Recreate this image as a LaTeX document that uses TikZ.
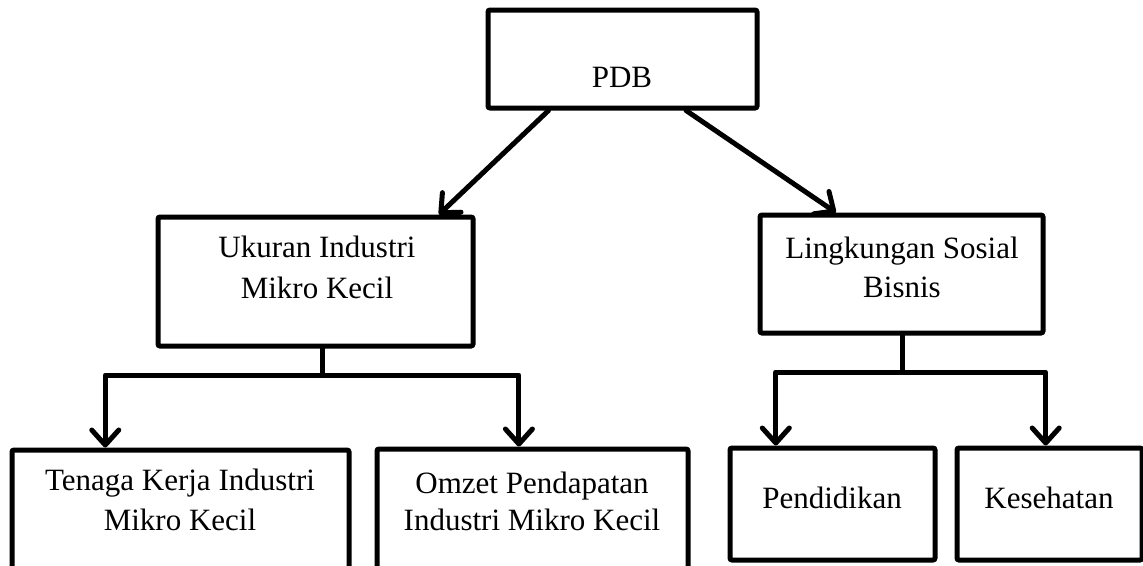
\documentclass[tikz,border=0pt]{standalone}
\usepackage{fontspec}
\setmainfont{Liberation Serif}
\usetikzlibrary{arrows.meta,calc}
\tikzset{
  box/.style={draw=black, line width=5pt, rounded corners=2pt, inner sep=0pt, fill=white},
  txt/.style={anchor=base, inner sep=0pt, font=\fontsize{31}{36}\selectfont},
  conn/.style={line width=5pt, line cap=round, line join=round},
  arr/.style={conn, -{Straight Barb[length=15pt, width=27pt, round]}}
}
\begin{document}
\begin{tikzpicture}[x=1pt, y=-1pt]
\useasboundingbox (0,0) rectangle (1143,565);
\clip (0,0) rectangle (1143,565);
% boxes
\node[box, minimum width=269pt, minimum height=98pt] (pdb) at (622.5,59) {};
\node[box, minimum width=315pt, minimum height=129pt] (uk) at (315.5,281.5) {};
\node[box, minimum width=283pt, minimum height=118pt] (ling) at (901.5,274) {};
\node[box, minimum width=337pt, minimum height=150pt] (ten) at (180.5,525) {};
\node[box, minimum width=311pt, minimum height=150pt] (omz) at (532.5,524) {};
\node[box, minimum width=205pt, minimum height=112pt] (pend) at (832.5,504) {};
\node[box, minimum width=185pt, minimum height=112pt] (kes) at (1049.5,504) {};
% texts
\node[txt] (tpdb) at (622,87) {PDB};
\node[txt] (tuk1) at (317,257) {Ukuran Industri};
\node[txt] (tuk2) at (317,298) {Mikro Kecil};
\node[txt] (tli1) at (902,258) {Lingkungan Sosial};
\node[txt] (tli2) at (902,297) {Bisnis};
\node[txt] (tte1) at (180,490) {Tenaga Kerja Industri};
\node[txt] (tte2) at (180,530) {Mikro Kecil};
\node[txt] (tom1) at (532,493) {Omzet Pendapatan};
\node[txt] (tom2) at (532,530) {Industri Mikro Kecil};
\node[txt] (tpe) at (832,508) {Pendidikan};
\node[txt] (tke) at (1049,508) {Kesehatan};
% top arrows
\draw[arr] ($(pdb.south west)!0.23!(pdb.south east)$) -- ($(uk.north west)!0.886!(uk.north east)$);
\draw[arr] ($(pdb.south west)!0.732!(pdb.south east)$) -- ($(ling.north west)!0.272!(ling.north east)$);
% left tree
\coordinate (jl) at (322,375);
\draw[conn] (uk.south -| jl) -- (jl);
\draw[arr] (jl) -| ($(ten.north west)!0.28!(ten.north east)$);
\draw[arr] (jl) -| ($(omz.north west)!0.457!(omz.north east)$);
% right tree
\coordinate (jr) at (902,372);
\draw[conn] (ling.south -| jr) -- (jr);
\draw[arr] (jr) -| ($(pend.north west)!0.23!(pend.north east)$);
\draw[arr] (jr) -| ($(kes.north west)!0.48!(kes.north east)$);
\end{tikzpicture}
\end{document}
